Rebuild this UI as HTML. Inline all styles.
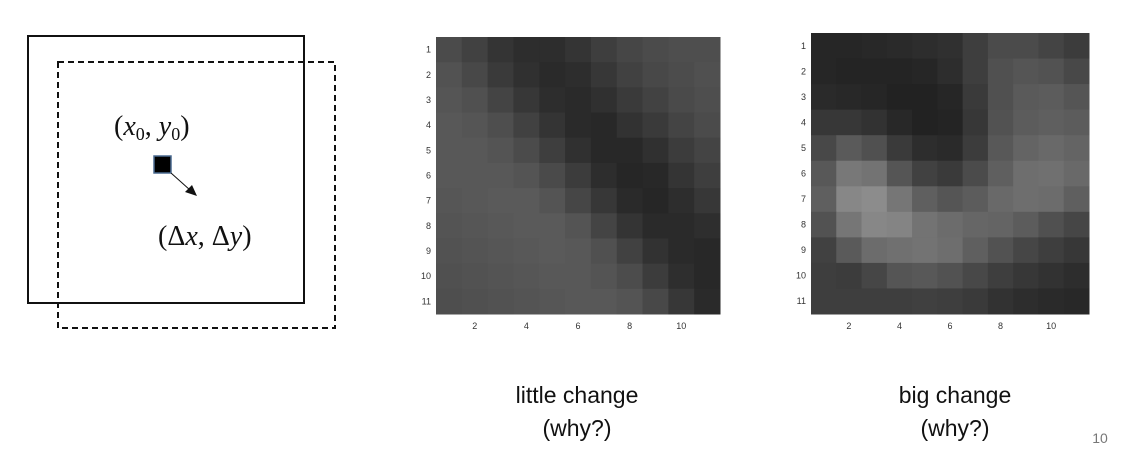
<!DOCTYPE html>
<html><head><meta charset="utf-8"><style>
body{margin:0;background:#fff;width:1122px;height:472px;overflow:hidden;font-family:"Liberation Sans",sans-serif}
svg{position:absolute;left:0;top:0}
.cap{font-family:"Liberation Sans",sans-serif;font-size:23px;fill:#111;text-anchor:middle}
.m{font-family:"Liberation Serif",serif;font-size:28px;fill:#111}
.tk{font-family:"Liberation Sans",sans-serif;font-size:9px;fill:#333}
</style></head><body>
<svg id="s" width="1122" height="472">
<g>
<rect x="28" y="36" width="276" height="267" fill="none" stroke="#111" stroke-width="2"/>
<rect x="58" y="62" width="277" height="266" fill="none" stroke="#111" stroke-width="2" stroke-dasharray="6,4"/>
<rect x="154" y="156" width="17" height="17" fill="#000" stroke="#4a6a90" stroke-width="1.5"/>
<line x1="171" y1="173" x2="190" y2="190" stroke="#111" stroke-width="1"/>
<polygon points="197,196 185,192 192,185" fill="#111"/>
<text class="m" x="114" y="135"><tspan>(</tspan><tspan font-style="italic">x</tspan><tspan font-size="18" dy="5">0</tspan><tspan dy="-5">, </tspan><tspan font-style="italic">y</tspan><tspan font-size="18" dy="5">0</tspan><tspan dy="-5">)</tspan></text>
<text class="m" x="158" y="245">(Δ<tspan font-style="italic">x</tspan>, Δ<tspan font-style="italic">y</tspan>)</text>
</g>
<g id="h1"></g>
<g id="h2"></g>
<text class="cap" x="577" y="403">little change</text>
<text class="cap" x="577" y="436">(why?)</text>
<text class="cap" x="955" y="403">big change</text>
<text class="cap" x="955" y="436">(why?)</text>
<text x="1100" y="443" font-size="14" fill="#777" text-anchor="middle">10</text>
</svg>
<script>
const rows=[1,2,3,4,5,6,7,8,9,10,11];
const cols=[1,2,3,4,5,6,7,8,9,10,11];
const xTicks=[2,4,6,8,10];
const little=[
[75,65,52,45,45,52,62,70,75,78,78],
[82,72,58,48,42,45,55,65,72,76,80],
[85,80,68,55,45,42,48,58,66,74,78],
[88,85,78,65,52,42,40,50,58,68,75],
[88,88,84,75,62,48,40,40,48,60,68],
[88,88,88,84,74,60,45,38,40,52,62],
[86,88,90,90,84,70,55,42,38,45,55],
[84,86,88,90,90,84,68,52,42,42,46],
[82,84,86,88,90,88,80,65,50,42,40],
[80,82,84,86,88,88,84,76,60,46,40],
[78,80,82,84,86,88,88,84,72,55,42]];
const big=[
[38,38,40,42,45,48,62,75,75,68,60],
[38,36,36,36,38,45,62,80,85,82,72],
[42,40,38,34,34,38,58,80,90,92,85],
[55,55,50,40,34,36,55,82,92,95,92],
[72,90,80,58,45,42,60,88,100,105,100],
[88,120,115,85,65,58,75,95,110,112,105],
[95,135,140,118,95,85,92,105,110,108,95],
[82,118,135,132,115,108,102,100,92,80,70],
[65,90,108,112,115,110,95,82,70,62,55],
[62,60,70,85,88,82,72,62,55,50,45],
[62,62,62,62,64,62,58,50,45,42,40]];
const NS='http://www.w3.org/2000/svg';
function draw(gid,data,x0,x1,y0,y1){
  const g=document.getElementById(gid);
  const cw=(x1-x0)/cols.length, ch=(y1-y0)/rows.length;
  const sx=c=>x0+(c-0.5)*cw, sy=r=>y0+(r-0.5)*ch;
  rows.forEach((r,i)=>cols.forEach((c,j)=>{
    const v=Math.round(data[i][j]);
    const e=document.createElementNS(NS,'rect');
    
    
    e.setAttribute('x',sx(c)-cw/2);e.setAttribute('y',sy(r)-ch/2);
    e.setAttribute('width',cw+0.5);e.setAttribute('height',ch+0.5);
    e.setAttribute('fill',`rgb(${v},${v},${v})`);g.appendChild(e);
  }));
  rows.forEach(r=>{
    const t=document.createElementNS(NS,'text');
    
    
    t.setAttribute('class','tk');t.setAttribute('x',x0-5);t.setAttribute('y',sy(r)+3);
    t.setAttribute('text-anchor','end');t.textContent=r;g.appendChild(t);
  });
  xTicks.forEach(c=>{
    const t=document.createElementNS(NS,'text');
    
    
    t.setAttribute('class','tk');t.setAttribute('x',sx(c));t.setAttribute('y',y1+15);
    t.setAttribute('text-anchor','middle');t.textContent=c;g.appendChild(t);
  });
}
draw('h1',little,436,720,37,314);
draw('h2',big,811,1089,33,314);
</script>
</body></html>
